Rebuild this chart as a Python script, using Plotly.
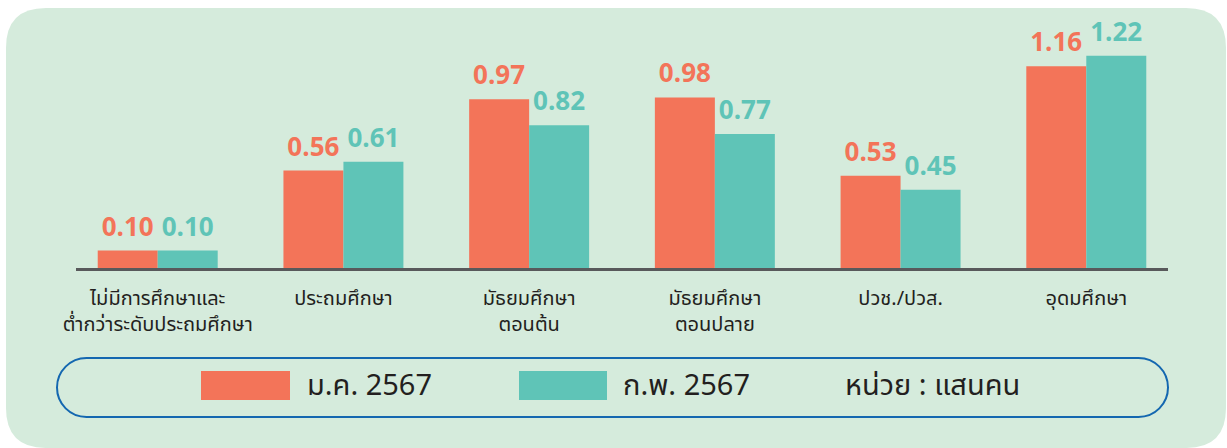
import plotly.graph_objects as go

categories = [
    "ไม่มีการศึกษาและ<br>ต่ำกว่าระดับประถมศึกษา",
    "ประถมศึกษา",
    "มัธยมศึกษา<br>ตอนต้น",
    "มัธยมศึกษา<br>ตอนปลาย",
    "ปวช./ปวส.",
    "อุดมศึกษา",
]
jan_2567 = [0.10, 0.56, 0.97, 0.98, 0.53, 1.16]
feb_2567 = [0.10, 0.61, 0.82, 0.77, 0.45, 1.22]
series_names = ["ม.ค. 2567", "ก.พ. 2567"]
unit_text = "หน่วย : แสนคน"

ORANGE = "#f37459"
TEAL = "#5fc4b7"
BG = "#d5ebdc"
FONT = "Noto Sans Thai, Noto Sans, DejaVu Sans, sans-serif"

W, H = 1227, 448
L, R, T, B = 76, 59, 7, 180
PW, PH = W - L - R, H - T - B


def px(x):
    return (x - L) / PW


def py(y):
    return (H - B - y) / PH


def rounded_rect(x0, y0, x1, y1, r):
    pts = [
        ("M", x0 + r, y0),
        ("L", x1 - r, y0),
        ("Q", x1, y0, x1, y0 + r),
        ("L", x1, y1 - r),
        ("Q", x1, y1, x1 - r, y1),
        ("L", x0 + r, y1),
        ("Q", x0, y1, x0, y1 - r),
        ("L", x0, y0 + r),
        ("Q", x0, y0, x0 + r, y0),
    ]
    s = ""
    for p in pts:
        cmd = p[0]
        coords = p[1:]
        parts = []
        for i in range(0, len(coords), 2):
            parts.append(f"{px(coords[i]):.5f},{py(coords[i+1]):.5f}")
        s += cmd + " ".join(parts) + " "
    return s + "Z"


def pill(x0, y0, x1, y1):
    r = (y1 - y0) / 2
    k = 0.5523 * r
    cy = (y0 + y1) / 2
    segs = [
        f"M{px(x0 + r):.5f},{py(y0):.5f}",
        f"L{px(x1 - r):.5f},{py(y0):.5f}",
        f"C{px(x1 - r + k):.5f},{py(y0):.5f} {px(x1):.5f},{py(cy - k):.5f} {px(x1):.5f},{py(cy):.5f}",
        f"C{px(x1):.5f},{py(cy + k):.5f} {px(x1 - r + k):.5f},{py(y1):.5f} {px(x1 - r):.5f},{py(y1):.5f}",
        f"L{px(x0 + r):.5f},{py(y1):.5f}",
        f"C{px(x0 + r - k):.5f},{py(y1):.5f} {px(x0):.5f},{py(cy + k):.5f} {px(x0):.5f},{py(cy):.5f}",
        f"C{px(x0):.5f},{py(cy - k):.5f} {px(x0 + r - k):.5f},{py(y0):.5f} {px(x0 + r):.5f},{py(y0):.5f}",
        "Z",
    ]
    return " ".join(segs)


fig = go.Figure()
for name, vals, col in [(series_names[0], jan_2567, ORANGE), (series_names[1], feb_2567, TEAL)]:
    fig.add_trace(go.Bar(
        x=categories, y=vals, name=name,
        marker=dict(color=col, line=dict(width=0)),
        texttemplate="%{y:.2f}", textposition="outside",
        textfont=dict(color=col, size=26, family=FONT, weight="bold"),
        cliponaxis=False, showlegend=False,
    ))

shapes = [
    dict(type="path", xref="paper", yref="paper", layer="below",
         path=rounded_rect(6, 8, 1226, 448, 40), fillcolor=BG, line=dict(width=0)),
    dict(type="path", xref="paper", yref="paper", layer="above",
         path=pill(57, 358, 1168, 417), fillcolor="rgba(0,0,0,0)",
         line=dict(color="#1467b0", width=2)),
    dict(type="rect", xref="paper", yref="paper", x0=px(201), x1=px(290), y0=py(371), y1=py(400),
         fillcolor=ORANGE, line=dict(width=0)),
    dict(type="rect", xref="paper", yref="paper", x0=px(519), x1=px(607), y0=py(371), y1=py(400),
         fillcolor=TEAL, line=dict(width=0)),
]

annotations = []
for txt, x in [(series_names[0], 305), (series_names[1], 621), (unit_text, 843)]:
    annotations.append(dict(
        text=txt, xref="paper", yref="paper", x=px(x), y=py(386),
        xanchor="left", yanchor="middle", showarrow=False,
        font=dict(size=29, color="#231f20", family=FONT),
    ))

fig.update_layout(
    width=W, height=H,
    margin=dict(l=L, r=R, t=T, b=B),
    paper_bgcolor="white", plot_bgcolor="rgba(0,0,0,0)",
    barmode="group", bargap=0.354, bargroupgap=0,
    shapes=shapes, annotations=annotations,
    font=dict(family=FONT),
    xaxis=dict(
        type="category", range=[-0.44, 5.44],
        showline=True, linecolor="#58595b", linewidth=3,
        showgrid=False, ticks="", ticklabelstandoff=10,
        tickfont=dict(size=20, color="#231f20", family=FONT),
    ),
    yaxis=dict(range=[0, 1.5], visible=False, showgrid=False, zeroline=False),
)

fig.write_html("out.html", config={"displayModeBar": False},
               post_script="document.body.style.margin='0';")
